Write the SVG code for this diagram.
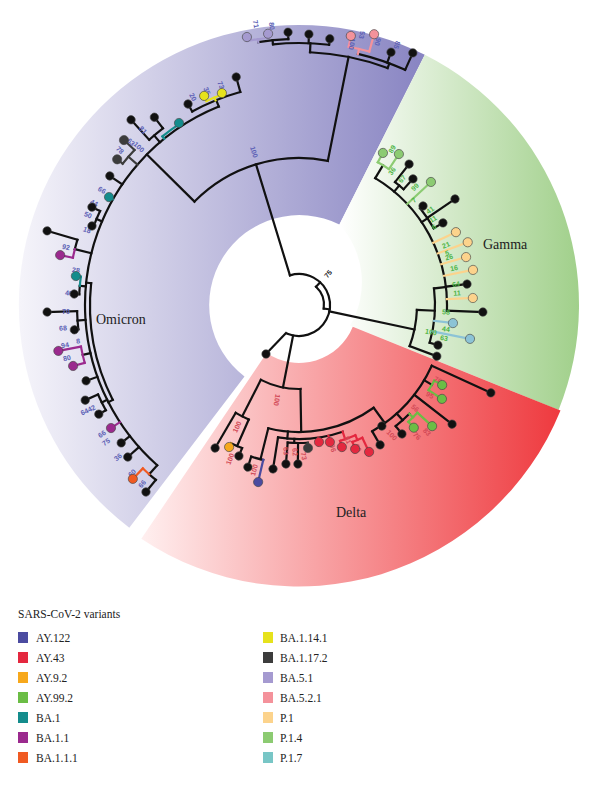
<svg xmlns="http://www.w3.org/2000/svg" width="600" height="787" viewBox="0 0 600 787">
<defs>
<linearGradient id="gO" gradientUnits="userSpaceOnUse" x1="20" y1="0" x2="425" y2="0"><stop offset="0" stop-color="#f5f4fa"/><stop offset="1" stop-color="#8884c2"/></linearGradient>
<linearGradient id="gG" gradientUnits="userSpaceOnUse" x1="340" y1="0" x2="578" y2="0"><stop offset="0" stop-color="#ffffff"/><stop offset="1" stop-color="#a1d08b"/></linearGradient>
<linearGradient id="gR" gradientUnits="userSpaceOnUse" x1="140" y1="0" x2="575" y2="0"><stop offset="0" stop-color="#fff0f0"/><stop offset="1" stop-color="#ee3338"/></linearGradient>
<style>
.t line,.t circle{fill:none;stroke:#111;stroke-width:2.2;stroke-linecap:square}
.t .lav{stroke:#a59ad0}.t .pnk{stroke:#f4929b}.t .yel{stroke:#e6e21c}.t .tea{stroke:#148c8c}
.t .gry{stroke:#3c3c3c}.t .pur{stroke:#9b2a8e}.t .org{stroke:#f05a22}.t .p1{stroke:#fcd38c}
.t .p14{stroke:#8ccb72}.t .p17{stroke:#8cc3d6}.t .a99{stroke:#6bbd45}.t .a43{stroke:#e4283f}
.t .a92{stroke:#f7a81c}.t .a122{stroke:#4b4ba0}
.n circle{stroke:#444;stroke-width:0.6}
.k{fill:#111}.lav{fill:#a59ad0}.pnk{fill:#f4929b}.yel{fill:#e6e21c}.tea{fill:#148c8c}.gry{fill:#3c3c3c}
.pur{fill:#9b2a8e}.org{fill:#f05a22}.p1{fill:#fcd38c}.p14{fill:#8ccb72}.p17{fill:#8cc3d6}
.a99{fill:#6bbd45}.a43{fill:#e4283f}.a92{fill:#f7a81c}.a122{fill:#4b4ba0}
.lb text{font-family:"Liberation Sans",Arial,sans-serif;font-size:7px;font-weight:bold;text-anchor:middle;dominant-baseline:central}
.lo{fill:#5b5fb5}.lgm{fill:#4fb548}.ld{fill:#d24a57}
.sec{font-family:"Liberation Serif","Times New Roman",serif;font-size:14px;fill:#222}
.leg text{font-family:"Liberation Serif","Times New Roman",serif;font-size:11.5px;fill:#222}
</style>
</defs>

<g id="sectors">
<path id="sec-omicron" d="M129.3 527.7 A280 280 0 0 1 424.8 54.8 L339.4 224.6 A90 90 0 0 0 244.5 376.6 Z" fill="url(#gO)"/>
<path id="sec-gamma" d="M424.8 54.8 A280 280 0 0 1 558.6 409.9 L350 325.6 A85 85 0 0 0 339.4 224.6 Z" fill="url(#gG)"/>
<path id="sec-delta" d="M560.5 410.6 A283 283 0 0 1 141.3 538.8 L266.6 353.1 A58 58 0 0 0 352.8 326.7 Z" fill="url(#gR)"/>
<text class="sec" x="96" y="324">Omicron</text>
<text class="sec" x="483" y="249">Gamma</text>
<text class="sec" x="336" y="517">Delta</text>
</g>

<g id="connectors" class="t" transform="translate(299,305)">
<circle r="31" pathLength="360" stroke-dasharray="219 400" transform="rotate(-107)"/>
<line x1="25" x2="31" transform="rotate(-47)"/>
<circle r="25" pathLength="360" stroke-dasharray="55 400" transform="rotate(-47)"/>
<line x1="25" x2="31" transform="rotate(8)"/>
<line x1="31" x2="147" transform="rotate(-107)"/>
<line x1="31" x2="118" transform="rotate(12)"/>
<line x1="31" x2="84" transform="rotate(101)"/>
<line x1="-13" y1="28" x2="-33" y2="49"/>
<circle r="147" pathLength="360" stroke-dasharray="56.6 400" transform="rotate(-135.3)"/>
<line x1="147" x2="253" transform="rotate(-78.7)"/>
<circle r="253" pathLength="360" stroke-dasharray="18 400" transform="rotate(-87.5)"/>
<line x1="253" x2="262" transform="rotate(-87.5)"/>
<circle r="262" pathLength="360" stroke-dasharray="12.3 400" transform="rotate(-95.7)"/>
<line x1="262" x2="268" transform="rotate(-83.4)"/>
<line x1="262" x2="271" transform="rotate(-87.9)"/>
<line x1="262" x2="266" transform="rotate(-95.7)"/>
<circle r="266" pathLength="360" stroke-dasharray="6.5 400" transform="rotate(-98.8)"/>
<line x1="266" x2="273" transform="rotate(-92.3)"/>
<line class="lav" x1="266" x2="269" transform="rotate(-98.8)"/>
<circle class="lav" r="269" pathLength="360" stroke-dasharray="4.5 400" transform="rotate(-101)"/>
<line class="lav" x1="269" x2="273" transform="rotate(-101)"/>
<line class="lav" x1="269" x2="273" transform="rotate(-96.5)"/>
<line x1="253" x2="258" transform="rotate(-69.5)"/>
<circle r="258" pathLength="360" stroke-dasharray="11.1 400" transform="rotate(-76.8)"/>
<line x1="258" x2="269" transform="rotate(-70)"/>
<line x1="258" x2="276.6" transform="rotate(-65.7)"/>
<line class="pnk" x1="258" x2="263" transform="rotate(-76.8)"/>
<circle class="pnk" r="263" pathLength="360" stroke-dasharray="4.6 400" transform="rotate(-79.1)"/>
<line class="pnk" x1="263" x2="274" transform="rotate(-79.1)"/>
<line class="pnk" x1="263" x2="281" transform="rotate(-74.5)"/>
<line x1="147" x2="214" transform="rotate(-135.3)"/>
<circle r="214" pathLength="360" stroke-dasharray="116.5 400" transform="rotate(131.5)"/>
<circle r="209" pathLength="360" stroke-dasharray="33 400" transform="rotate(153)"/>
<line x1="209" x2="214" transform="rotate(153)"/>
<line x1="209" x2="214" transform="rotate(186)"/>
<line x1="214" x2="221" transform="rotate(248)"/>
<circle r="221" pathLength="360" stroke-dasharray="13.5 400" transform="rotate(241.1)"/>
<line x1="221" x2="229.6" transform="rotate(241.1)"/>
<line x1="221" x2="236.5" transform="rotate(254.6)"/>
<line class="yel" x1="221" x2="224" transform="rotate(247.8)"/>
<circle class="yel" r="224" pathLength="360" stroke-dasharray="4.4 400" transform="rotate(245.6)"/>
<line class="yel" x1="224" x2="229.6" transform="rotate(245.6)"/>
<line class="yel" x1="224" x2="225.5" transform="rotate(250)"/>
<line class="tea" x1="214" x2="217" transform="rotate(231)"/>
<circle class="tea" r="217" pathLength="360" stroke-dasharray="5.6 400" transform="rotate(231)"/>
<line x1="214" x2="223" transform="rotate(229.5)"/>
<circle r="223" pathLength="360" stroke-dasharray="4.6 400" transform="rotate(227.8)"/>
<line x1="223" x2="237" transform="rotate(232.4)"/>
<line x1="223" x2="250" transform="rotate(227.8)"/>
<line class="gry" x1="214" x2="226" transform="rotate(221)"/>
<circle class="gry" r="226" pathLength="360" stroke-dasharray="4.6 400" transform="rotate(218.7)"/>
<line class="gry" x1="226" x2="240.5" transform="rotate(223.3)"/>
<line class="gry" x1="226" x2="233" transform="rotate(218.7)"/>
<line x1="214" x2="229" transform="rotate(214.3)"/>
<line class="tea" x1="214" x2="218.5" transform="rotate(209.6)"/>
<line x1="214" x2="220" transform="rotate(203)"/>
<circle r="220" pathLength="360" stroke-dasharray="4.4 400" transform="rotate(200.9)"/>
<line x1="220" x2="229" transform="rotate(205.3)"/>
<line x1="220" x2="221.6" transform="rotate(200.9)"/>
<line x1="214" x2="231" transform="rotate(194)"/>
<circle r="231" pathLength="360" stroke-dasharray="2.4 400" transform="rotate(194)"/>
<line x1="231" x2="262.6" transform="rotate(196.4)"/>
<circle class="pur" r="231" pathLength="360" stroke-dasharray="2.2 400" transform="rotate(191.8)"/>
<line class="pur" x1="231" x2="244" transform="rotate(191.8)"/>
<line x1="214" x2="220" transform="rotate(185)"/>
<circle r="220" pathLength="360" stroke-dasharray="2.2 400" transform="rotate(182.8)"/>
<circle class="tea" r="220" pathLength="360" stroke-dasharray="2.4 400" transform="rotate(185)"/>
<line class="tea" x1="220" x2="225" transform="rotate(187.4)"/>
<line x1="220" x2="225" transform="rotate(182.8)"/>
<line x1="214" x2="222" transform="rotate(176)"/>
<circle r="222" pathLength="360" stroke-dasharray="4.7 400" transform="rotate(173.7)"/>
<line x1="222" x2="252" transform="rotate(178.4)"/>
<line x1="222" x2="226" transform="rotate(173.7)"/>
<line x1="214" x2="222" transform="rotate(167)"/>
<circle class="pur" r="222" pathLength="360" stroke-dasharray="4.3 400" transform="rotate(164.9)"/>
<line class="pur" x1="222" x2="245" transform="rotate(169.2)"/>
<line class="pur" x1="222" x2="234" transform="rotate(164.9)"/>
<line x1="214" x2="226" transform="rotate(160.4)"/>
<line x1="214" x2="220" transform="rotate(153.7)"/>
<circle r="220" pathLength="360" stroke-dasharray="4.6 400" transform="rotate(151.4)"/>
<line x1="220" x2="234" transform="rotate(156)"/>
<line x1="220" x2="228" transform="rotate(151.4)"/>
<line class="pur" x1="214" x2="224.7" transform="rotate(146.8)"/>
<line x1="214" x2="225" transform="rotate(142.2)"/>
<line x1="214" x2="229" transform="rotate(138.4)"/>
<line x1="214" x2="226" transform="rotate(131.5)"/>
<circle r="226" pathLength="360" stroke-dasharray="2.2 400" transform="rotate(129.3)"/>
<circle class="org" r="226" pathLength="360" stroke-dasharray="2.2 400" transform="rotate(131.5)"/>
<line class="org" x1="226" x2="240.5" transform="rotate(133.7)"/>
<line x1="226" x2="241.6" transform="rotate(129.3)"/>
<circle r="118" pathLength="360" stroke-dasharray="18 400" transform="rotate(2.4)"/>
<line x1="118" x2="147" transform="rotate(20.4)"/>
<line x1="118" x2="136" transform="rotate(2.4)"/>
<circle r="136" pathLength="360" stroke-dasharray="23.1 400" transform="rotate(-7)"/>
<line x1="136" x2="144.6" transform="rotate(16.1)"/>
<line class="p17" x1="136" x2="155" transform="rotate(6.7)"/>
<line class="p17" x1="136" x2="174.3" transform="rotate(11.2)"/>
<line x1="136" x2="148" transform="rotate(-7)"/>
<line x1="148" x2="169.3" transform="rotate(-7.1)"/>
<circle r="148" pathLength="360" stroke-dasharray="61.2 400" transform="rotate(-59)"/>
<line x1="148" x2="184" transform="rotate(2.2)"/>
<line class="p1" x1="148" x2="174" transform="rotate(-2.3)"/>
<line class="p1" x1="148" x2="177.5" transform="rotate(-11.4)"/>
<line class="p1" x1="148" x2="173.8" transform="rotate(-16)"/>
<line class="p1" x1="148" x2="180" transform="rotate(-20.4)"/>
<line class="p1" x1="148" x2="173" transform="rotate(-24.9)"/>
<line x1="148" x2="155" transform="rotate(-34)"/>
<circle r="155" pathLength="360" stroke-dasharray="8.9 400" transform="rotate(-38.6)"/>
<line x1="155" x2="158.7" transform="rotate(-38.6)"/>
<line x1="155" x2="188.6" transform="rotate(-34.2)"/>
<line x1="155" x2="165.7" transform="rotate(-29.7)"/>
<line class="p14" x1="148" x2="180.4" transform="rotate(-43)"/>
<line x1="148" x2="156" transform="rotate(-50)"/>
<circle r="156" pathLength="360" stroke-dasharray="4.1 400" transform="rotate(-52)"/>
<line x1="156" x2="178.8" transform="rotate(-52)"/>
<line x1="156" x2="170" transform="rotate(-47.9)"/>
<line x1="148" x2="163" transform="rotate(-59)"/>
<circle class="p14" r="163" pathLength="360" stroke-dasharray="4.6 400" transform="rotate(-61.1)"/>
<line class="p14" x1="163" x2="173.7" transform="rotate(-61.1)"/>
<line class="p14" x1="163" x2="181" transform="rotate(-56.5)"/>
<circle r="84" pathLength="360" stroke-dasharray="28 400" transform="rotate(89)"/>
<line x1="84" x2="125" transform="rotate(117)"/>
<circle r="125" pathLength="360" stroke-dasharray="6.7 400" transform="rotate(113.7)"/>
<line x1="125" x2="165.8" transform="rotate(120.4)"/>
<line x1="125" x2="154" transform="rotate(113.7)"/>
<circle r="154" pathLength="360" stroke-dasharray="4.5 400" transform="rotate(111.7)"/>
<line x1="154" x2="162.5" transform="rotate(111.7)"/>
<line class="a92" x1="154" x2="158.3" transform="rotate(116.2)"/>
<line x1="84" x2="127" transform="rotate(89)"/>
<circle r="127" pathLength="360" stroke-dasharray="50 400" transform="rotate(54)"/>
<line x1="127" x2="159" transform="rotate(104)"/>
<circle r="159" pathLength="360" stroke-dasharray="4.5 400" transform="rotate(103)"/>
<line x1="159" x2="170" transform="rotate(107.5)"/>
<line class="a122" x1="159" x2="181.7" transform="rotate(103)"/>
<line x1="127" x2="134" transform="rotate(95)"/>
<circle r="134" pathLength="360" stroke-dasharray="28 400" transform="rotate(71)"/>
<line x1="134" x2="166" transform="rotate(99)"/>
<line x1="134" x2="138" transform="rotate(92)"/>
<circle r="138" pathLength="360" stroke-dasharray="8.3 400" transform="rotate(86.4)"/>
<line x1="138" x2="159.5" transform="rotate(94.7)"/>
<line x1="138" x2="159" transform="rotate(90.4)"/>
<line class="gry" x1="138" x2="143.3" transform="rotate(86.4)"/>
<line class="a43" x1="134" x2="138.5" transform="rotate(81.7)"/>
<line class="a43" x1="134" x2="140.5" transform="rotate(77.3)"/>
<line class="a43" x1="134" x2="142" transform="rotate(71)"/>
<circle class="a43" r="142" pathLength="360" stroke-dasharray="6.6 400" transform="rotate(66.6)"/>
<line class="a43" x1="142" x2="148.4" transform="rotate(73.2)"/>
<line class="a43" x1="142" x2="147" transform="rotate(66.6)"/>
<circle class="a43" r="147" pathLength="360" stroke-dasharray="4.2 400" transform="rotate(64.5)"/>
<line class="a43" x1="147" x2="154.5" transform="rotate(68.7)"/>
<line class="a43" x1="147" x2="162.8" transform="rotate(64.5)"/>
<line x1="127" x2="146" transform="rotate(54)"/>
<circle r="146" pathLength="360" stroke-dasharray="35.3 400" transform="rotate(24.6)"/>
<line x1="146" x2="161.7" transform="rotate(59.9)"/>
<line x1="146" x2="211" transform="rotate(24.6)"/>
<line x1="146" x2="155" transform="rotate(31)"/>
<circle class="a99" r="155" pathLength="360" stroke-dasharray="4.1 400" transform="rotate(29.2)"/>
<line class="a99" x1="155" x2="164" transform="rotate(29.2)"/>
<line class="a99" x1="155" x2="171" transform="rotate(33.3)"/>
<line x1="146" x2="194" transform="rotate(37.9)"/>
<line x1="146" x2="155" transform="rotate(48)"/>
<circle r="155" pathLength="360" stroke-dasharray="6.8 400" transform="rotate(44.6)"/>
<line x1="155" x2="165" transform="rotate(51.4)"/>
<line class="a99" x1="155" x2="160" transform="rotate(44.6)"/>
<circle class="a99" r="160" pathLength="360" stroke-dasharray="4.6 400" transform="rotate(42.3)"/>
<line class="a99" x1="160" x2="180" transform="rotate(42.3)"/>
<line class="a99" x1="160" x2="168" transform="rotate(46.9)"/>
</g>

<g id="labels" class="lb">
<text x="328" y="274" transform="rotate(-50 328 274)" fill="#222">75</text>
<g class="lo">
<text x="254" y="152" transform="rotate(73 254 152)">100</text>
<text x="256" y="24" transform="rotate(80 256 24)">71</text>
<text x="272" y="26" transform="rotate(84 272 26)">80</text>
<text x="352" y="44" transform="rotate(100 352 44)">100</text>
<text x="362" y="35" transform="rotate(100 362 35)">53</text>
<text x="378" y="42" transform="rotate(105 378 42)">90</text>
<text x="397" y="45" transform="rotate(110 397 45)">85</text>
<text x="221" y="85" transform="rotate(70 221 85)">73</text>
<text x="207" y="91" transform="rotate(66 207 91)">35</text>
<text x="193" y="97" transform="rotate(61 193 97)">20</text>
<text x="143" y="130" transform="rotate(48 143 130)">81</text>
<text x="131" y="142" transform="rotate(43 131 142)">63</text>
<text x="139" y="147" transform="rotate(43 139 147)">100</text>
<text x="120" y="150" transform="rotate(43 120 150)">78</text>
<text x="102" y="190" transform="rotate(30 102 190)">66</text>
<text x="94" y="203" transform="rotate(25 94 203)">44</text>
<text x="88" y="215" transform="rotate(22 88 215)">50</text>
<text x="87" y="230" transform="rotate(20 87 230)">18</text>
<text x="66" y="247" transform="rotate(12 66 247)">92</text>
<text x="76" y="270" transform="rotate(7 76 270)">28</text>
<text x="69" y="293" transform="rotate(3 69 293)">46</text>
<text x="66" y="311">70</text>
<text x="63" y="328" transform="rotate(-5 63 328)">68</text>
<text x="78" y="341" transform="rotate(-8 78 341)">8</text>
<text x="65" y="345" transform="rotate(-10 65 345)">94</text>
<text x="67" y="358" transform="rotate(-14 67 358)">80</text>
<text x="88" y="410" transform="rotate(-25 88 410)">6442</text>
<text x="102" y="434" transform="rotate(-33 102 434)">66</text>
<text x="106" y="442" transform="rotate(-35 106 442)">75</text>
<text x="118" y="457" transform="rotate(-40 118 457)">36</text>
<text x="132" y="473" transform="rotate(-45 132 473)">60</text>
<text x="142" y="484" transform="rotate(-50 142 484)">66</text>
</g>
<g class="lgm">
<text x="392" y="149" transform="rotate(-60 392 149)">89</text>
<text x="392" y="171" transform="rotate(-55 392 171)">36</text>
<text x="402" y="179" transform="rotate(-50 402 179)">67</text>
<text x="415" y="187" transform="rotate(-45 415 187)">99</text>
<text x="414" y="200" transform="rotate(-40 414 200)">7</text>
<text x="430" y="210" transform="rotate(-35 430 210)">41</text>
<text x="433" y="219" transform="rotate(-30 433 219)">11</text>
<text x="434" y="227" transform="rotate(-28 434 227)">6</text>
<text x="446" y="245" transform="rotate(-22 446 245)">21</text>
<text x="447" y="253" transform="rotate(-18 447 253)">5</text>
<text x="449" y="257" transform="rotate(-16 449 257)">26</text>
<text x="454" y="268" transform="rotate(-12 454 268)">16</text>
<text x="456" y="284" transform="rotate(-7 456 284)">64</text>
<text x="457" y="293" transform="rotate(-3 457 293)">11</text>
<text x="446" y="312" transform="rotate(2 446 312)">58</text>
<text x="446" y="329" transform="rotate(7 446 329)">44</text>
<text x="431" y="332" transform="rotate(10 431 332)">100</text>
<text x="444" y="338" transform="rotate(12 444 338)">63</text>
</g>
<g class="ld">
<text x="277" y="400" transform="rotate(100 277 400)">100</text>
<text x="237" y="427" transform="rotate(-65 237 427)">100</text>
<text x="230" y="459" transform="rotate(-70 230 459)">100</text>
<text x="254" y="470" transform="rotate(-75 254 470)">100</text>
<text x="286" y="451" transform="rotate(85 286 451)">63</text>
<text x="295" y="452" transform="rotate(85 295 452)">62</text>
<text x="304" y="456" transform="rotate(80 304 456)">73</text>
<text x="333" y="448" transform="rotate(75 333 448)">96</text>
<text x="348" y="440" transform="rotate(70 348 440)">81</text>
<text x="358" y="448" transform="rotate(65 358 448)">60</text>
<text x="392" y="435" transform="rotate(45 392 435)">100</text>
<text x="415" y="408" transform="rotate(40 415 408)">56</text>
<text x="417" y="436" transform="rotate(45 417 436)">76</text>
<text x="427" y="432" transform="rotate(45 427 432)">83</text>
<text x="430" y="395" transform="rotate(30 430 395)">95</text>
<text x="438" y="380" transform="rotate(25 438 380)">70</text>
</g>
</g>

<g id="nodes" class="n" transform="translate(299,305)">
<g id="L1"><circle class="lav" cx="273" r="4.6" transform="rotate(-101)"/></g>
<g id="L2"><circle class="lav" cx="273" r="4.6" transform="rotate(-96.5)"/></g>
<g id="L3"><circle class="k" cx="273" r="4.2" transform="rotate(-92.3)"/></g>
<g id="L4"><circle class="k" cx="271" r="4.2" transform="rotate(-87.9)"/></g>
<g id="L5"><circle class="k" cx="268" r="4.2" transform="rotate(-83.4)"/></g>
<g id="L6"><circle class="pnk" cx="274" r="4.6" transform="rotate(-79.1)"/></g>
<g id="L7"><circle class="pnk" cx="281" r="4.6" transform="rotate(-74.5)"/></g>
<g id="L8"><circle class="k" cx="269" r="4.2" transform="rotate(-70)"/></g>
<g id="L9"><circle class="k" cx="276.6" r="4.2" transform="rotate(-65.7)"/></g>
<g id="a1"><circle class="k" cx="236.5" r="4.2" transform="rotate(254.6)"/></g>
<g id="a2"><circle class="yel" cx="225.5" r="4.6" transform="rotate(250)"/></g>
<g id="a3"><circle class="yel" cx="229.6" r="4.6" transform="rotate(245.6)"/></g>
<g id="a4"><circle class="k" cx="229.6" r="4.2" transform="rotate(241.1)"/></g>
<g id="a5"><circle class="tea" cx="218" r="4.6" transform="rotate(236.6)"/></g>
<g id="a6"><circle class="k" cx="237" r="4.2" transform="rotate(232.4)"/></g>
<g id="a7"><circle class="k" cx="250" r="4.2" transform="rotate(227.8)"/></g>
<g id="a8"><circle class="gry" cx="240.5" r="4.6" transform="rotate(223.3)"/></g>
<g id="a9"><circle class="gry" cx="233" r="4.6" transform="rotate(218.7)"/></g>
<g id="a10"><circle class="k" cx="229" r="4.2" transform="rotate(214.3)"/></g>
<g id="a11"><circle class="tea" cx="218.5" r="4.6" transform="rotate(209.6)"/></g>
<g id="a12"><circle class="k" cx="229" r="4.2" transform="rotate(205.3)"/></g>
<g id="a13"><circle class="k" cx="221.6" r="4.2" transform="rotate(200.9)"/></g>
<g id="a14"><circle class="k" cx="262.6" r="4.2" transform="rotate(196.4)"/></g>
<g id="a15"><circle class="pur" cx="244" r="4.6" transform="rotate(191.8)"/></g>
<g id="a16"><circle class="tea" cx="225" r="4.6" transform="rotate(187.4)"/></g>
<g id="a17"><circle class="k" cx="225" r="4.2" transform="rotate(182.8)"/></g>
<g id="a18"><circle class="k" cx="252" r="4.2" transform="rotate(178.4)"/></g>
<g id="a19"><circle class="k" cx="226" r="4.2" transform="rotate(173.7)"/></g>
<g id="a20"><circle class="pur" cx="245" r="4.6" transform="rotate(169.2)"/></g>
<g id="a21"><circle class="pur" cx="234" r="4.6" transform="rotate(164.9)"/></g>
<g id="a22"><circle class="k" cx="226" r="4.2" transform="rotate(160.4)"/></g>
<g id="a23"><circle class="k" cx="234" r="4.2" transform="rotate(156)"/></g>
<g id="a24"><circle class="k" cx="228" r="4.2" transform="rotate(151.4)"/></g>
<g id="a25"><circle class="pur" cx="224.7" r="4.6" transform="rotate(146.8)"/></g>
<g id="a26"><circle class="k" cx="225" r="4.2" transform="rotate(142.2)"/></g>
<g id="a27"><circle class="k" cx="229" r="4.2" transform="rotate(138.4)"/></g>
<g id="a28"><circle class="org" cx="240.5" r="4.6" transform="rotate(133.7)"/></g>
<g id="a29"><circle class="k" cx="241.6" r="4.2" transform="rotate(129.3)"/></g>
<g id="g1"><circle class="p14" cx="173.7" r="4.6" transform="rotate(-61.1)"/></g>
<g id="g2"><circle class="p14" cx="181" r="4.6" transform="rotate(-56.5)"/></g>
<g id="g3"><circle class="k" cx="178.8" r="4.2" transform="rotate(-52)"/></g>
<g id="g4"><circle class="k" cx="170" r="4.2" transform="rotate(-47.9)"/></g>
<g id="g5"><circle class="p14" cx="180.4" r="4.6" transform="rotate(-43)"/></g>
<g id="g6"><circle class="k" cx="158.7" r="4.2" transform="rotate(-38.6)"/></g>
<g id="g7"><circle class="k" cx="188.6" r="4.2" transform="rotate(-34.2)"/></g>
<g id="g8"><circle class="k" cx="165.7" r="4.2" transform="rotate(-29.7)"/></g>
<g id="g9"><circle class="p1" cx="173" r="4.6" transform="rotate(-24.9)"/></g>
<g id="g10"><circle class="p1" cx="180" r="4.6" transform="rotate(-20.4)"/></g>
<g id="g11"><circle class="p1" cx="173.8" r="4.6" transform="rotate(-16)"/></g>
<g id="g12"><circle class="p1" cx="177.5" r="4.6" transform="rotate(-11.4)"/></g>
<g id="g13"><circle class="k" cx="169.3" r="4.2" transform="rotate(-7.1)"/></g>
<g id="g14"><circle class="p1" cx="174" r="4.6" transform="rotate(-2.3)"/></g>
<g id="g15"><circle class="k" cx="184" r="4.2" transform="rotate(2.2)"/></g>
<g id="g16"><circle class="p17" cx="155" r="4.6" transform="rotate(6.7)"/></g>
<g id="g17"><circle class="p17" cx="174.3" r="4.6" transform="rotate(11.2)"/></g>
<g id="g18"><circle class="k" cx="144.6" r="4.2" transform="rotate(16.1)"/></g>
<g id="g19"><circle class="k" cx="147" r="4.2" transform="rotate(20.4)"/></g>
<g id="d1"><circle class="k" cx="211" r="4.2" transform="rotate(24.6)"/></g>
<g id="d2"><circle class="a99" cx="164" r="4.6" transform="rotate(29.2)"/></g>
<g id="d3"><circle class="a99" cx="171" r="4.6" transform="rotate(33.3)"/></g>
<g id="d4"><circle class="k" cx="194" r="4.2" transform="rotate(37.9)"/></g>
<g id="d5"><circle class="a99" cx="180" r="4.6" transform="rotate(42.3)"/></g>
<g id="d6"><circle class="a99" cx="168" r="4.6" transform="rotate(46.9)"/></g>
<g id="d7"><circle class="k" cx="165" r="4.2" transform="rotate(51.4)"/></g>
<g id="dn"><circle class="k" cx="146.7" r="4.2" transform="rotate(55.6)"/></g>
<g id="d8"><circle class="k" cx="161.7" r="4.2" transform="rotate(59.9)"/></g>
<g id="d9"><circle class="a43" cx="162.8" r="4.6" transform="rotate(64.5)"/></g>
<g id="d10"><circle class="a43" cx="154.5" r="4.6" transform="rotate(68.7)"/></g>
<g id="d11"><circle class="a43" cx="148.4" r="4.6" transform="rotate(73.2)"/></g>
<g id="d12"><circle class="a43" cx="140.5" r="4.6" transform="rotate(77.3)"/></g>
<g id="d13"><circle class="a43" cx="138.5" r="4.6" transform="rotate(81.7)"/></g>
<g id="d14"><circle class="gry" cx="143.3" r="4.6" transform="rotate(86.4)"/></g>
<g id="d15"><circle class="k" cx="159" r="4.2" transform="rotate(90.4)"/></g>
<g id="d16"><circle class="k" cx="159.5" r="4.2" transform="rotate(94.7)"/></g>
<g id="d17"><circle class="k" cx="166" r="4.2" transform="rotate(99)"/></g>
<g id="d18"><circle class="a122" cx="181.7" r="4.6" transform="rotate(103)"/></g>
<g id="d19"><circle class="k" cx="170" r="4.2" transform="rotate(107.5)"/></g>
<g id="d20"><circle class="k" cx="162.5" r="4.2" transform="rotate(111.7)"/></g>
<g id="d21"><circle class="a92" cx="158.3" r="4.6" transform="rotate(116.2)"/></g>
<g id="d22"><circle class="k" cx="165.8" r="4.2" transform="rotate(120.4)"/></g>
<g id="d23"><circle class="k" cx="-33" cy="49" r="4.2"/></g>
</g>

<g id="legend" class="leg">
<text x="18" y="618">SARS-CoV-2 variants</text>
<rect class="a122" x="18" y="632" width="10" height="11"/><text x="36" y="642">AY.122</text>
<rect class="a43" x="18" y="652" width="10" height="11"/><text x="36" y="662">AY.43</text>
<rect class="a92" x="18" y="672" width="10" height="11"/><text x="36" y="682">AY.9.2</text>
<rect class="a99" x="18" y="692" width="10" height="11"/><text x="36" y="702">AY.99.2</text>
<rect class="tea" x="18" y="712" width="10" height="11"/><text x="36" y="722">BA.1</text>
<rect class="pur" x="18" y="732" width="10" height="11"/><text x="36" y="742">BA.1.1</text>
<rect class="org" x="18" y="752" width="10" height="11"/><text x="36" y="762">BA.1.1.1</text>
<rect class="yel" x="263" y="632" width="10" height="11"/><text x="280" y="642">BA.1.14.1</text>
<rect class="gry" x="263" y="652" width="10" height="11"/><text x="280" y="662">BA.1.17.2</text>
<rect class="lav" x="263" y="672" width="10" height="11"/><text x="280" y="682">BA.5.1</text>
<rect class="pnk" x="263" y="692" width="10" height="11"/><text x="280" y="702">BA.5.2.1</text>
<rect class="p1" x="263" y="712" width="10" height="11"/><text x="280" y="722">P.1</text>
<rect class="p14" x="263" y="732" width="10" height="11"/><text x="280" y="742">P.1.4</text>
<rect fill="#78c6c6" x="263" y="752" width="10" height="11"/><text x="280" y="762">P.1.7</text>
</g>
</svg>
